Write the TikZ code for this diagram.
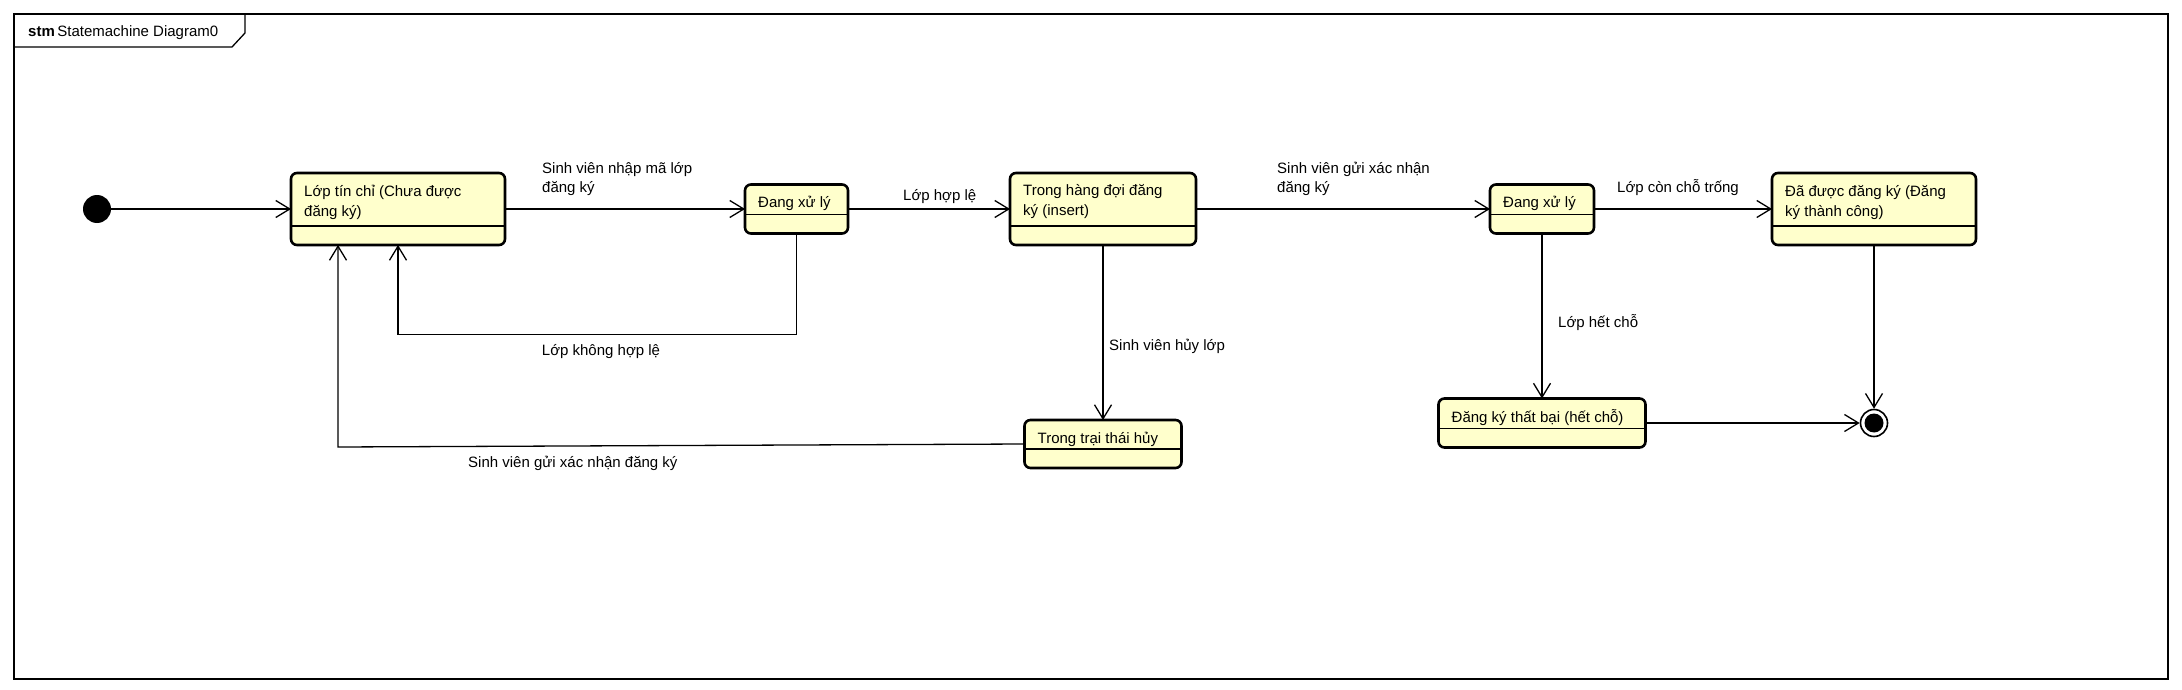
\documentclass[tikz,border=0pt]{standalone}
\usepackage{fontspec}
\setmainfont{Liberation Sans}
\usetikzlibrary{arrows.meta,calc}
\definecolor{statefill}{RGB}{255,255,204}
\tikzset{
  ustate/.style={draw=black, line width=2.6pt, fill=statefill, rounded corners=6pt, inner sep=0pt, outer sep=0pt},
  stext/.style={anchor=base west, inner sep=0pt, align=left, font=\fontsize{15}{20}\selectfont},
  lbl/.style={inner sep=0pt, align=left, font=\fontsize{15}{20}\selectfont},
  trans/.style={line width=1.3pt, -{Straight Barb[length=14pt,width=17pt]}},
  sepline/.style={line width=1.3pt},
}
% name, cx, cy, w, h, baseline offset of last text line, text
\newcommand{\ustate}[7]{%
  \node[ustate, minimum width=#4pt, minimum height=#5pt] (#1) at (#2,#3) {};
  \draw[sepline] ($(#1.south west)+(0,-19)$) -- ($(#1.south east)+(0,-19)$);
  \node[stext] (#1t) at ($(#1.north west)+(13,#6)$) {#7};
}
\begin{document}
\begin{tikzpicture}[x=1pt,y=-1pt]
\useasboundingbox (0,0) rectangle (2182,690);
% frame
\draw[line width=1.5pt] (14,14) rectangle (2168,679);
\draw[line width=1.3pt] (14,47) -- (232,47) -- (245,33) -- (245,14);
\node[lbl, anchor=base west] (title) at (28,37) {\textbf{stm}\,Statemachine Diagram0};
% pseudo states
\node[circle, fill=black, minimum size=28pt, inner sep=0pt] (init) at (97,209) {};
\node[circle, draw=black, fill=white, line width=1.6pt, minimum size=27pt, inner sep=0pt] (final) at (1874,423) {};
\node[circle, fill=black, minimum size=19pt, inner sep=0pt] (finalin) at (final) {};
% states
\ustate{s1}{398}{209}{214}{72}{43}{Lớp tín chỉ (Chưa được\\đăng ký)}
\ustate{s2}{796.5}{209}{103}{49}{23}{Đang xử lý}
\ustate{s3}{1103}{209}{186}{72}{42}{Trong hàng đợi đăng\\ký (insert)}
\ustate{s4}{1103}{444}{157}{48}{23}{Trong trại thái hủy}
\ustate{s5}{1542}{209}{104}{49}{23}{Đang xử lý}
\ustate{s6}{1874}{209}{204}{72}{43}{Đã được đăng ký (Đăng\\ký thành công)}
\ustate{s7}{1542}{423}{207}{49}{24}{Đăng ký thất bại (hết chỗ)}
% transitions
\draw[trans] (init) -- (s1);
\draw[trans] (s1) -- (s2);
\draw[trans] (s2) -- (s3);
\draw[trans] (s3) -- (s5);
\draw[trans] (s5) -- (s6);
\draw[trans] (s2.south) -- ++(0,101) -| (s1.south);
\draw[trans] (s3) -- (s4);
\coordinate (c1) at (338,447);
\draw[trans] (s4.west) -- (c1) -- (c1 |- s1.south);
\draw[trans] (s5) -- (s7);
\draw[trans] (s6) -- (final);
\draw[trans] (s7) -- (final);
% labels
\node[lbl, anchor=base west] (l1) at (542,193) {Sinh viên nhập mã lớp\\đăng ký};
\node[lbl, anchor=base] (l2) at (601,355) {Lớp không hợp lệ};
\node[lbl, anchor=base west] (l3) at (903,200) {Lớp hợp lệ};
\node[lbl, anchor=base west] (l4) at (1109,350) {Sinh viên hủy lớp};
\node[lbl, anchor=base west] (l5) at (468,467) {Sinh viên gửi xác nhận đăng ký};
\node[lbl, anchor=base west] (l6) at (1277,193) {Sinh viên gửi xác nhận\\đăng ký};
\node[lbl, anchor=base west] (l7) at (1617,192) {Lớp còn chỗ trống};
\node[lbl, anchor=base west] (l8) at (1558,327) {Lớp hết chỗ};
\end{tikzpicture}
\end{document}
